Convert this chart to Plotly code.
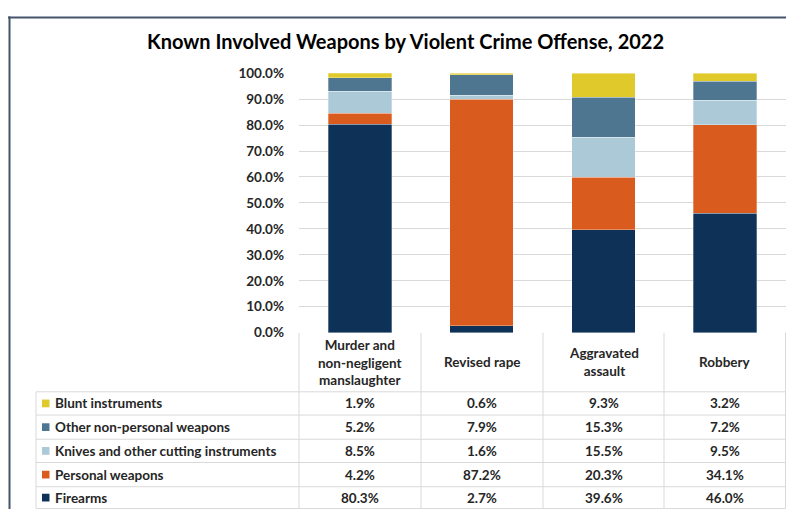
import plotly.graph_objects as go

categories = ["Murder and non-negligent manslaughter", "Revised rape", "Aggravated assault", "Robbery"]
header_labels = ["Murder and<br>non-negligent<br>manslaughter", "Revised rape", "Aggravated<br>assault", "Robbery"]

firearms = [80.3, 2.7, 39.6, 46.0]
personal_weapons = [4.2, 87.2, 20.3, 34.1]
knives = [8.5, 1.6, 15.5, 9.5]
other_nonpersonal = [5.2, 7.9, 15.3, 7.2]
blunt = [1.9, 0.6, 9.3, 3.2]

series_names = ["Firearms", "Personal weapons", "Knives and other cutting instruments",
                "Other non-personal weapons", "Blunt instruments"]
series_values = [firearms, personal_weapons, knives, other_nonpersonal, blunt]
series_colors = ["#0e3257", "#d95b1e", "#abc9d6", "#4f7690", "#e0c92a"]

y_ticks = [0, 10, 20, 30, 40, 50, 60, 70, 80, 90, 100]
y_tick_labels = [f"{v:.1f}%" for v in y_ticks]

# page is 794x525 with the browser's default 8px body margin -> figure 778x509
OFF = 8
W, H = 794 - 2 * OFF, 525 - 2 * OFF
FONT = "Lato, 'Open Sans', sans-serif"
TXT = "#262626"
GRID = "#d9d9d9"


def X(px):
    return min(max((px - OFF) / W, 0), 1)


def Y(py):
    return min(max(1 - (py - OFF) / H, 0), 1)


fig = go.Figure()
for name, vals, col in zip(series_names, series_values, series_colors):
    fig.add_trace(go.Bar(x=categories, y=vals, name=name, marker_color=col,
                         marker_line=dict(color="rgba(255,255,255,0.6)", width=0.5),
                         showlegend=False))

plot_x0, plot_x1 = 299, 786
plot_y0, plot_y1 = 67, 335

shapes = []
annotations = []

# frame
shapes.append(dict(type="line", xref="paper", yref="paper", x0=X(8), x1=1, y0=Y(9.5), y1=Y(9.5),
                   line=dict(color="#44546a", width=2)))
shapes.append(dict(type="line", xref="paper", yref="paper", x0=X(9.5), x1=X(9.5), y0=Y(8.5), y1=0,
                   line=dict(color="#44546a", width=2)))

# table geometry
col_edges = [299, 421, 543, 664, 785.5]
row_edges = [396, 420, 445, 469, 494, 516.5]
legend_left = 36

for xe in col_edges:
    shapes.append(dict(type="line", xref="paper", yref="paper", x0=X(xe), x1=X(xe), y0=Y(335), y1=Y(516.5),
                       line=dict(color=GRID, width=1)))
shapes.append(dict(type="line", xref="paper", yref="paper", x0=X(legend_left), x1=X(legend_left),
                   y0=Y(396), y1=Y(516.5), line=dict(color=GRID, width=1)))
for ye in row_edges:
    shapes.append(dict(type="line", xref="paper", yref="paper", x0=X(legend_left), x1=X(785.5), y0=Y(ye), y1=Y(ye),
                       line=dict(color=GRID, width=1)))

for i, lab in enumerate(header_labels):
    cx = (col_edges[i] + col_edges[i + 1]) / 2
    annotations.append(dict(x=X(cx), y=Y(365.5), xref="paper", yref="paper", text=lab, showarrow=False,
                            xanchor="center", yanchor="middle", align="center",
                            font=dict(family=FONT, size=13.5, color=TXT, weight="bold")))

row_order = list(range(len(series_names)))[::-1]
for r, si in enumerate(row_order):
    cy = (row_edges[r] + row_edges[r + 1]) / 2
    shapes.append(dict(type="rect", xref="paper", yref="paper", x0=X(42), x1=X(49.5), y0=Y(cy - 4), y1=Y(cy + 4),
                       fillcolor=series_colors[si], line=dict(width=0)))
    annotations.append(dict(x=X(53), y=Y(cy), xref="paper", yref="paper", text=series_names[si],
                            showarrow=False, xanchor="left", yanchor="middle",
                            font=dict(family=FONT, size=13.5, color=TXT, weight="bold")))
    for c in range(len(categories)):
        cx = (col_edges[c] + col_edges[c + 1]) / 2
        annotations.append(dict(x=X(cx), y=Y(cy), xref="paper", yref="paper",
                                text=f"{series_values[si][c]:.1f}%", showarrow=False,
                                xanchor="center", yanchor="middle",
                                font=dict(family=FONT, size=13.5, color=TXT, weight="bold")))

annotations.append(dict(x=X(406), y=Y(34), xref="paper", yref="paper",
                        text="Known Involved Weapons by Violent Crime Offense, 2022", showarrow=False,
                        xanchor="center", yanchor="middle",
                        font=dict(family=FONT, size=20, color="#000000", weight="bold")))

fig.update_layout(
    width=W, height=H, autosize=False,
    margin=dict(l=0, r=0, t=0, b=0),
    paper_bgcolor="white", plot_bgcolor="white",
    barmode="stack", bargap=0.48,
    xaxis=dict(domain=[X(plot_x0), X(plot_x1)], showticklabels=False, showgrid=False,
               showline=False, zeroline=False, fixedrange=True),
    yaxis=dict(domain=[Y(plot_y1), Y(plot_y0)], range=[0, 100], tickvals=y_ticks, ticktext=y_tick_labels,
               showgrid=True, gridcolor=GRID, gridwidth=1, zeroline=False, showline=False,
               ticklabelstandoff=14,
               tickfont=dict(family=FONT, size=13.5, color=TXT, weight="bold")),
    shapes=shapes, annotations=annotations,
    font=dict(family=FONT),
)

fig.write_html("out.html", config={"displayModeBar": False})
